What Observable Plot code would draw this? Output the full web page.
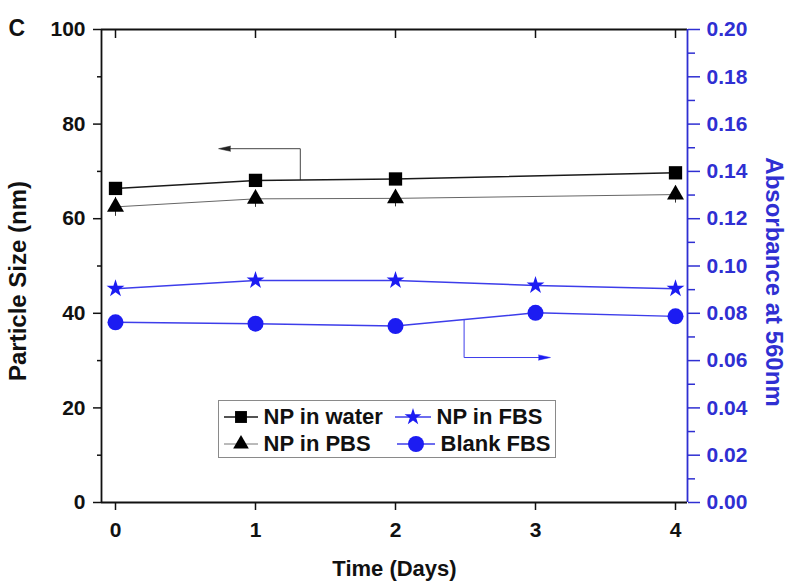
<!DOCTYPE html>
<html><head><meta charset="utf-8">
<script src="https://cdn.jsdelivr.net/npm/d3@7"></script>
<script src="https://cdn.jsdelivr.net/npm/@observablehq/plot@0.6"></script>
<style>
body{margin:0;background:#fff;}
#wrap{position:relative;width:800px;height:584px;font-family:"Liberation Sans",Arial,sans-serif;}
#legend{position:absolute;left:218px;top:400px;width:338px;height:58px;box-sizing:border-box;border:1.5px solid #8a8a8a;background:#fff;}
.item{position:absolute;display:flex;align-items:center;height:26px;font-weight:bold;font-size:22px;color:#111;white-space:nowrap;}
.item svg{display:block;}
</style></head><body><div id="wrap"><div id="legend"></div></div>
<script>
// ---- data ----
const xTicks = [0, 1, 2, 3, 4];
const waterDays = [0, 1, 2, 4];
const waterSize = [66.4, 68.1, 68.4, 69.7];
const pbsDays = [0, 1, 2, 4];
const pbsSize = [62.5, 64.2, 64.3, 65.1];
const pbsErr = [2.0, 1.8, 1.8, 1.8];
const fbsDays = [0, 1, 2, 3, 4];
const fbsAbs = [0.0904, 0.0939, 0.0939, 0.0918, 0.0904];
const blankDays = [0, 1, 2, 3, 4];
const blankAbs = [0.0762, 0.0756, 0.0746, 0.0802, 0.0787];
const leftTicks = [0, 20, 40, 60, 80, 100];
const leftMinor = [10, 30, 50, 70, 90];
const rightTicks = [0, 0.02, 0.04, 0.06, 0.08, 0.10, 0.12, 0.14, 0.16, 0.18, 0.20];
const rightMinor = [0.01, 0.03, 0.05, 0.07, 0.09, 0.11, 0.13, 0.15, 0.17, 0.19];
const seriesNames = ["NP in water", "NP in PBS", "NP in FBS", "Blank FBS"];
// annotation arrows (data space: day, particle size)
const arrowLeftPath = [[1.32, 68.25], [1.32, 74.8], [0.80, 74.8]];
const arrowLeftTip = [0.736, 74.8];
const arrowRightPath = [[2.49, 38.7], [2.49, 30.65], [3.05, 30.65]];
const arrowRightTip = [3.107, 30.65];

const xDomain = [-0.1, 4.0857];
const yDomain = [0, 100];
const absMax = 0.20;
const k = yDomain[1] / absMax; // absorbance -> left units

const BLUE = "#1c1cf2";
const BLUE_LINE = "#3d3dea";
const BLUE_AXIS = "#2f2fd2";
const BLACK = "#111";

const water = waterDays.map((d, i) => ({day: d, v: waterSize[i]}));
const pbs = pbsDays.map((d, i) => ({day: d, v: pbsSize[i], err: pbsErr[i]}));
const fbs = fbsDays.map((d, i) => ({day: d, v: fbsAbs[i] * k}));
const blank = blankDays.map((d, i) => ({day: d, v: blankAbs[i] * k}));

const FONT = "'Liberation Sans', Arial, sans-serif";

const chart = Plot.plot({
  width: 800, height: 584,
  marginLeft: 101, marginRight: 113, marginTop: 29, marginBottom: 82,
  x: {domain: xDomain},
  y: {domain: yDomain},
  style: {fontFamily: FONT, fontWeight: "bold", fontSize: "21px", color: BLACK, background: "transparent", overflow: "visible"},
  marks: [
    // axes
    Plot.axisX(xTicks, {anchor: "bottom", tickSize: 8, tickPadding: 12, tickFormat: d => String(d), label: null, stroke: BLACK, strokeWidth: 1.5}),
    Plot.ruleX(xTicks, {x: d => d, y1: () => yDomain[1], y2: () => yDomain[1], insetBottom: -9, stroke: BLACK, strokeWidth: 1.5}),
    Plot.axisY(leftTicks, {anchor: "left", tickSize: 8, tickPadding: 8, tickFormat: d => String(d), label: null, strokeWidth: 1.5}),
    Plot.axisY(leftMinor, {anchor: "left", tickSize: 4, tickFormat: () => "", label: null, strokeWidth: 1.5}),
    Plot.axisY(rightTicks.map(t => t * k), {anchor: "right", tickSize: 12, tickPadding: 7, tickFormat: d => (d / k).toFixed(2), label: null, color: BLUE_AXIS, strokeWidth: 1.5}),
    Plot.axisY(rightMinor.map(t => t * k), {anchor: "right", tickSize: 7, tickFormat: () => "", label: null, color: BLUE_AXIS, strokeWidth: 1.5}),
    // frame
    Plot.ruleY([yDomain[0]], {stroke: BLACK, strokeWidth: 1.8}),
    Plot.ruleY([yDomain[1]], {stroke: BLACK, strokeWidth: 1.8}),
    Plot.ruleX([xDomain[0]], {stroke: BLACK, strokeWidth: 1.8}),
    Plot.ruleX([xDomain[1]], {stroke: BLUE_AXIS, strokeWidth: 1.8}),
    // annotation arrows
    Plot.line(arrowLeftPath, {x: d => d[0], y: d => d[1], stroke: "#444", strokeWidth: 1}),
    Plot.vector([arrowLeftTip], {x: d => d[0], y: d => d[1], rotate: -90, length: 12, anchor: "end", shape: "spike", r: 2.6, fill: "#222", stroke: "#222", strokeWidth: 0.5}),
    Plot.line(arrowRightPath, {x: d => d[0], y: d => d[1], stroke: BLUE_LINE, strokeWidth: 1}),
    Plot.vector([arrowRightTip], {x: d => d[0], y: d => d[1], rotate: 90, length: 12, anchor: "end", shape: "spike", r: 2.6, fill: BLUE, stroke: BLUE, strokeWidth: 0.5}),
    // series
    Plot.line(water, {x: "day", y: "v", stroke: "#1a1a1a", strokeWidth: 1.5}),
    Plot.line(pbs, {x: "day", y: "v", stroke: "#666", strokeWidth: 1}),
    Plot.line(fbs, {x: "day", y: "v", stroke: BLUE_LINE, strokeWidth: 1.5}),
    Plot.line(blank, {x: "day", y: "v", stroke: BLUE_LINE, strokeWidth: 1.5}),
    Plot.ruleX(pbs, {x: "day", y1: d => d.v - d.err, y2: d => d.v + d.err, stroke: "#333", strokeWidth: 1}),
    Plot.dot(water, {x: "day", y: "v", symbol: "square", r: 7.5, fill: "#000", stroke: "none"}),
    Plot.dot(pbs, {x: "day", y: "v", symbol: "triangle", r: 6.3, fill: "#000", stroke: "none"}),
    Plot.dot(fbs, {x: "day", y: "v", symbol: "star", r: 5.6, fill: BLUE, stroke: "none"}),
    Plot.dot(blank, {x: "day", y: "v", symbol: "circle", r: 8, fill: BLUE, stroke: "none"}),
    // titles
    Plot.text(["Particle Size (nm)"], {text: d => d, frameAnchor: "left", dx: -83, dy: 15, rotate: -90, textAnchor: "middle", lineAnchor: "middle", fontSize: 24, fontWeight: "bold", fill: BLACK}),
    Plot.text(["Absorbance at 560nm"], {text: d => d, frameAnchor: "right", dx: 86, dy: 16, rotate: 90, textAnchor: "middle", lineAnchor: "middle", fontSize: 24, fontWeight: "bold", fill: BLUE_AXIS}),
    Plot.text(["Time (Days)"], {text: d => d, frameAnchor: "bottom", dy: 66, textAnchor: "middle", lineAnchor: "middle", fontSize: 22, fontWeight: "bold", fill: BLACK}),
    Plot.text(["C"], {text: d => d, frameAnchor: "top-left", dx: -93, dy: -10, textAnchor: "start", lineAnchor: "top", fontSize: 23, fontWeight: "bold", fill: BLACK})
  ]
});
const wrap = document.getElementById("wrap");
wrap.insertBefore(chart, wrap.firstChild);

// ---- legend ----
const legend = document.getElementById("legend");
const legendItems = [
  {name: seriesNames[0], symbol: d3.symbolSquare, size: Math.PI * 7.5 * 7.5 * 0.8, color: "#000", line: "#1a1a1a", lw: 1.5, left: 4.5, top: 2.5, lineW: 34, gap: 6},
  {name: seriesNames[1], symbol: d3.symbolTriangle, size: Math.PI * 6.3 * 6.3 * 0.85, color: "#000", line: "#777", lw: 1, left: 4.5, top: 29.5, lineW: 34, gap: 6},
  {name: seriesNames[2], symbol: d3.symbolStar, size: Math.PI * 5.6 * 5.6 * 0.9, color: BLUE, line: BLUE_LINE, lw: 1.5, left: 175.5, top: 2.5, lineW: 36, gap: 6},
  {name: seriesNames[3], symbol: d3.symbolCircle, size: Math.PI * 8 * 8, color: BLUE, line: BLUE_LINE, lw: 1.5, left: 177.5, top: 29.5, lineW: 38, gap: 6}
];
for (const it of legendItems) {
  const div = document.createElement("div");
  div.className = "item";
  div.style.left = it.left + "px";
  div.style.top = it.top + "px";
  const svg = d3.create("svg").attr("width", it.lineW).attr("height", 26);
  svg.append("line").attr("x1", 0).attr("x2", it.lineW).attr("y1", 13).attr("y2", 13).attr("stroke", it.line).attr("stroke-width", it.lw);
  svg.append("path").attr("transform", `translate(${it.lineW / 2},13)`).attr("d", d3.symbol(it.symbol, it.size)()).attr("fill", it.color);
  div.appendChild(svg.node());
  const span = document.createElement("span");
  span.textContent = it.name;
  span.style.marginLeft = it.gap + "px";
  div.appendChild(span);
  legend.appendChild(div);
}
</script></body></html>
